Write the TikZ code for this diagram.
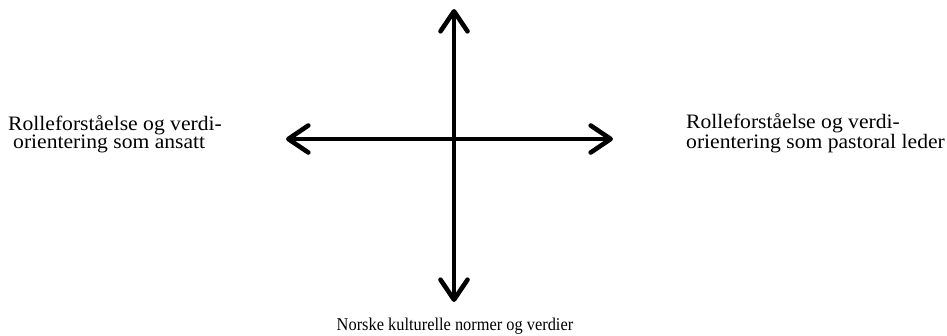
\documentclass[tikz,border=0pt]{standalone}
\usepackage{fontspec}
\setmainfont{Liberation Serif}
\newfontfamily\widefont{Liberation Serif}[FakeStretch=1.054]
\newfontfamily\narrowfont{Liberation Serif}[FakeStretch=0.91]
\usetikzlibrary{arrows.meta}
\begin{document}
\begin{tikzpicture}[x=1pt,y=-1pt,
  axis/.style={line width=4.6pt, {Straight Barb[round,length=20pt,width=27pt]}-{Straight Barb[round,length=20pt,width=27pt]}},
  lbl/.style={inner sep=0pt, align=left, font=\widefont\fontsize{20.5}{18.5}\selectfont},
  blbl/.style={inner sep=0pt, font=\narrowfont\fontsize{18}{18.5}\selectfont}]
\useasboundingbox (0,0) rectangle (947,335);
\coordinate (top) at (454,9);
\coordinate (bot) at (454,302);
\coordinate (lft) at (286,139);
\coordinate (rgt) at (613,139);
\draw[axis] (top) -- (bot);
\draw[axis] (lft) -- (rgt);
\node[lbl, anchor=base west] (l) at (8,148.5) {Rolleforståelse og verdi-\\\hspace{5pt}orientering som ansatt};
\node[lbl, anchor=base west] (r) at (686,148.5) {Rolleforståelse og verdi-\\orientering som pastoral leder};
\node[blbl, anchor=base] (b) at (455,330) {Norske kulturelle normer og verdier};
\end{tikzpicture}
\end{document}
